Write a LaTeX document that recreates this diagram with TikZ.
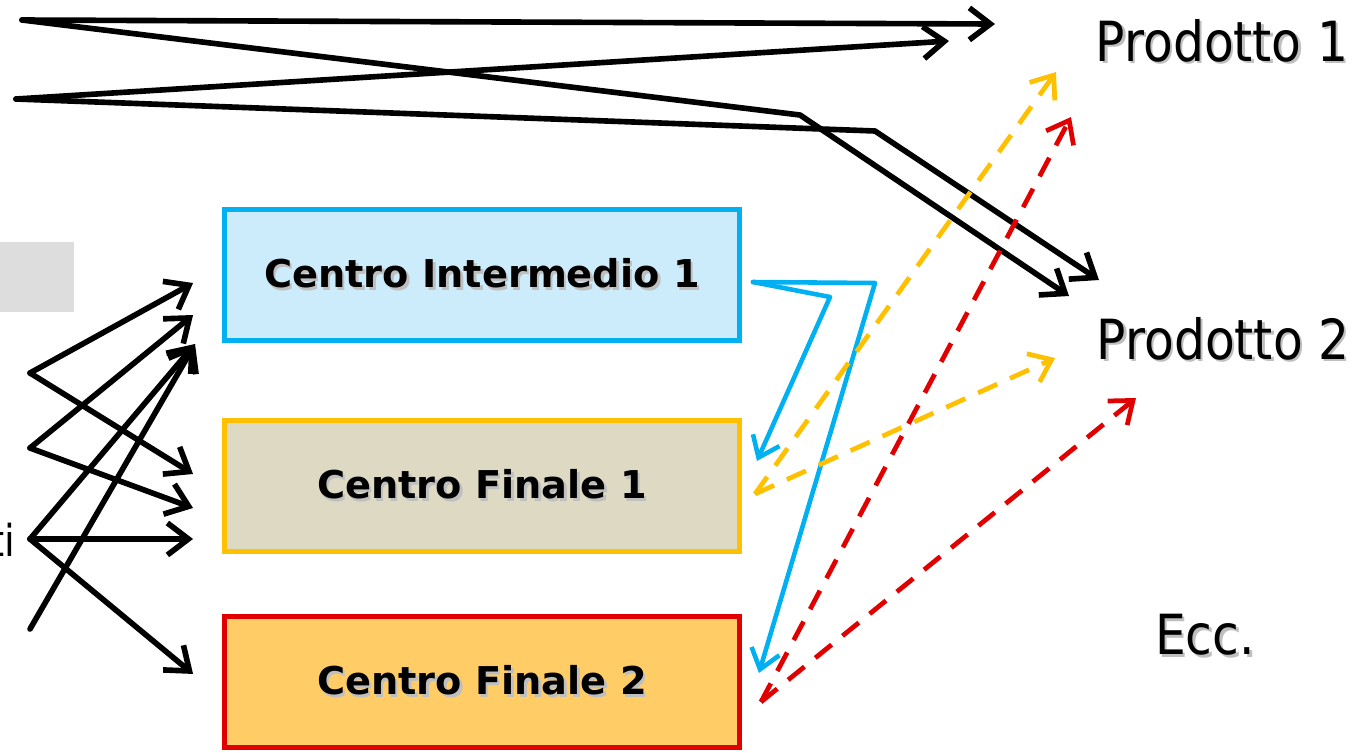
\documentclass[tikz,border=0pt]{standalone}
\usepackage{fontspec}
\setmainfont{DejaVu Sans}
\newfontfamily\prodfont[FakeStretch=0.88]{DejaVu Sans}
\usetikzlibrary{positioning,calc,arrows.meta}

\definecolor{cblue}{RGB}{0,176,240}
\definecolor{cyellow}{RGB}{255,192,0}
\definecolor{cred}{RGB}{224,0,0}
\definecolor{fblue}{RGB}{204,236,252}
\definecolor{ftan}{RGB}{221,217,195}
\definecolor{forange}{RGB}{255,204,102}
\definecolor{fgray}{RGB}{221,221,221}

\newcommand{\shad}[1]{\makebox[0pt][l]{\kern1.5pt\raisebox{-1.5pt}{\color{black!25}#1}}#1}

\tikzset{
    cbox/.style = {draw, line width=2.85pt, minimum width=10.3cm, minimum height=2.62cm,
        inner sep=0pt, font=\bfseries\fontsize{21.8}{26}\selectfont},
    prod/.style = {inner sep=0pt, font=\prodfont\fontsize{31.5}{36}\selectfont},
    blk/.style = {line width=3.2pt, line cap=round, line join=round,
        -{Straight Barb[length=0.42cm, width=0.64cm]}},
    blu/.style = {cblue, line width=2.6pt, line cap=round, line join=round,
        -{Straight Barb[length=0.38cm, width=0.58cm]}},
    dsh/.style = {line width=2.7pt, dash pattern=on 0.42cm off 0.28cm,
        -{Straight Barb[length=0.4cm, width=0.62cm]}},
}

\begin{document}
\begin{tikzpicture}[x=0.02cm, y=-0.02cm]
    \useasboundingbox (0,0) rectangle (1370,752);

    \fill[fgray] (0,242) rectangle (74,312);

    \node[cbox, draw=cblue, fill=fblue] (ci1) at (482,275) {\shad{Centro Intermedio 1}};
    \node[cbox, draw=cyellow, fill=ftan, below = 1.5cm of ci1] (cf1) {\shad{Centro Finale 1}};
    \node[cbox, draw=cred, fill=forange, below = 1.2cm of cf1] (cf2) {\shad{Centro Finale 2}};

    \node[prod] (p1) at (1222,42) {\shad{Prodotto 1}};
    \node[prod] (p2) at (1223,340) {\shad{Prodotto 2}};
    \node[prod] (ecc) at (1205,636) {\shad{Ecc.}};
    \node[prod, anchor=base east, font=\prodfont\fontsize{25}{30}\selectfont] (lt) at (16,556) {ti};

    \coordinate (s1) at (22,20);
    \coordinate (s2) at (16,99);
    \coordinate (k1) at (800,115);
    \coordinate (k2) at (875,131);
    \coordinate (t1) at (995,24);
    \coordinate (t2) at (949,41);
    \coordinate (t3) at (1099,280);
    \coordinate (t4) at (1069,296);

    \draw[blk] (s1) -- (t1);
    \draw[blk] (s2) -- (t2);
    \draw[blk] (s1) -- (k1) -- (t4);
    \draw[blk] (s2) -- (k2) -- (t3);

    \coordinate (v1) at (30,373);
    \coordinate (v2) at (30,448);
    \coordinate (v3) at (30,539);
    \coordinate (v4) at (30,629);
    \coordinate (a1) at ($(ci1.west) + (-29,8)$);
    \coordinate (a2) at ($(ci1.west) + (-29,40)$);
    \coordinate (a3) at ($(ci1.west) + (-27,69)$);
    \coordinate (a4) at ($(cf1.west) + (-29,-12)$);
    \coordinate (a5) at ($(cf1.west) + (-29,22)$);
    \coordinate (a6) at ($(cf1.west) + (-29,53)$);
    \coordinate (a7) at ($(cf2.west) + (-29,-8)$);

    \draw[blk] (v1) -- (a1);
    \draw[blk] (v1) -- (a4);
    \draw[blk] (v2) -- (a2);
    \draw[blk] (v2) -- (a5);
    \draw[blk] (v3) -- (a3);
    \draw[blk] (v3) -- (a6);
    \draw[blk] (v3) -- (a7);
    \draw[blk] (v4) -- (a3);

    \coordinate (bs) at ($(ci1.east) + (11,7)$);
    \draw[blu] (bs) -- (830,297) -- ($(cf1.east) + (15,-25)$);
    \draw[blu] (bs) -- (875,283) -- ($(cf2.east) + (17,-9)$);

    \coordinate (ys) at ($(cf1.east) + (13,8)$);
    \draw[dsh, cyellow] (ys) -- (1056,72);
    \draw[dsh, cyellow] (ys) -- (1055,358);

    \coordinate (rs) at ($(cf2.east) + (19,20)$);
    \draw[dsh, cred] (rs) -- (1071,117);
    \draw[dsh, cred] (rs) -- (1136,398);
\end{tikzpicture}
\end{document}
